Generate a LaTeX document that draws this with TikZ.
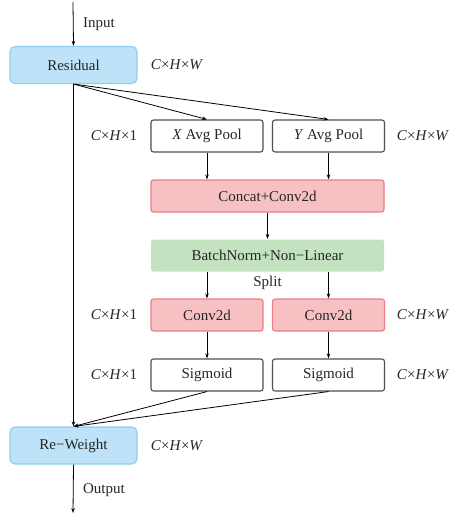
\documentclass[tikz,border=0pt]{standalone}
\usepackage{fontspec}
\setmainfont{Liberation Serif}
\usetikzlibrary{arrows.meta}
\definecolor{bluefill}{HTML}{BEE3F8}
\definecolor{blueline}{HTML}{8FCDF0}
\definecolor{redfill}{HTML}{F7C1C4}
\definecolor{redline}{HTML}{EE7C85}
\definecolor{greenfill}{HTML}{C3E3C0}
\definecolor{greenline}{HTML}{B8DDB5}
\definecolor{boxline}{HTML}{505050}
\tikzset{
  every node/.style={font=\fontsize{15}{17}\selectfont, inner sep=0pt, text=black!85},
  blk/.style={rounded corners=2.5pt, line width=1.1pt, minimum height=32pt},
  bluebox/.style={blk, draw=blueline, fill=bluefill, minimum width=127pt, minimum height=37pt, rounded corners=5pt},
  plainbox/.style={blk, draw=boxline, fill=white, minimum width=112pt},
  redbox/.style={blk, draw=redline, fill=redfill},
  greenbox/.style={blk, draw=greenline, fill=greenfill},
  arr/.style={-{Stealth[length=5pt,width=3.5pt]}, line width=0.8pt},
}
\newcommand{\dimCHone}{\textit{C}×\textit{H}×1}
\newcommand{\dimCHW}{\textit{C}×\textit{H}×\textit{W}}
\begin{document}
\begin{tikzpicture}[x=1pt,y=-1pt]
  \useasboundingbox (0,0) rectangle (450,515);

  % main path blocks
  \coordinate (in) at (73,2);
  \node[bluebox] (res) at (73.5,65) {Residual};
  \node[bluebox] (rew) at (73.5,445.5) {Re−Weight};
  \coordinate (out) at (73,513);

  % pooling branches
  \node[plainbox] (xpool) at (207,136) {\textit{X} Avg Pool};
  \node[plainbox] (ypool) at (328.5,136) {\textit{Y} Avg Pool};
  \node[redbox, minimum width=233pt] (cat) at (267.5,196) {Concat+Conv2d};
  \node[greenbox, minimum width=233pt, draw=none] (bn) at (267.5,255.5) {BatchNorm+Non−Linear};
  \node (split) at (267.5,283) {Split};
  \node[redbox, minimum width=112pt] (cx) at (207,315) {Conv2d};
  \node[redbox, minimum width=112pt] (cy) at (328.5,315) {Conv2d};
  \node[plainbox] (sx) at (207,375) {Sigmoid};
  \node[plainbox] (sy) at (328.5,375) {Sigmoid};

  % side labels
  \node (inlbl) at (99,24) {Input};
  \node (outlbl) at (104,490) {Output};
  \node (d0) at (177,65) {\dimCHW};
  \node (d1l) at (114,136) {\dimCHone};
  \node (d1r) at (423,136) {\dimCHW};
  \node (d2l) at (114,315) {\dimCHone};
  \node (d2r) at (423,315) {\dimCHW};
  \node (d3l) at (114,375) {\dimCHone};
  \node (d3r) at (423,375) {\dimCHW};
  \node (d4) at (177,445.5) {\dimCHW};

  % connectors
  \draw[arr] (in) -- (res.north);
  \draw[arr] (res.south) -- (rew.north);
  \draw[arr] (res.south) -- (xpool.north);
  \draw[arr] (res.south) -- (ypool.north);
  \draw[arr] (xpool.south) -- (xpool.south |- cat.north);
  \draw[arr] (ypool.south) -- (ypool.south |- cat.north);
  \draw[arr] (cat.south) -- (bn.north);
  \draw[arr] (bn.south -| cx.north) -- (cx.north);
  \draw[arr] (bn.south -| cy.north) -- (cy.north);
  \draw[arr] (cx.south) -- (sx.north);
  \draw[arr] (cy.south) -- (sy.north);
  \draw[arr] (sx.south) -- (rew.north);
  \draw[arr] (sy.south) -- (rew.north);
  \draw[arr] (rew.south) -- (out);
\end{tikzpicture}
\end{document}
